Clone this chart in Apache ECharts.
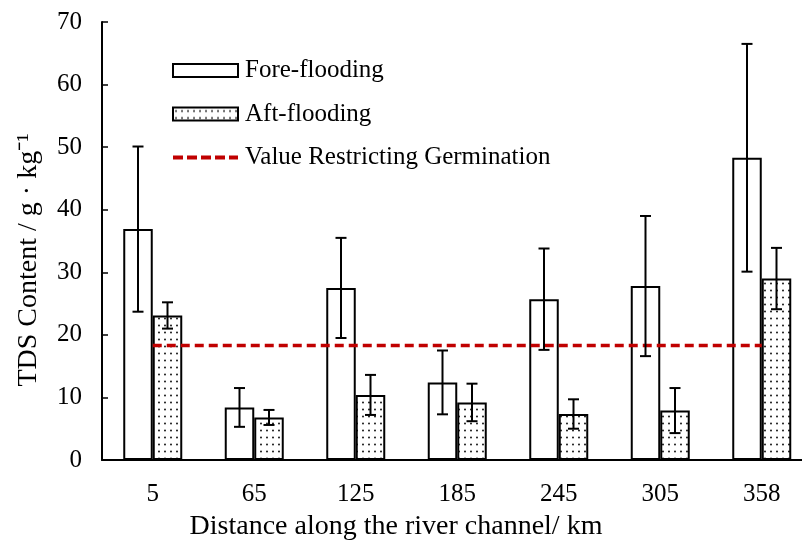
<!DOCTYPE html>
<html>
<head>
<meta charset="utf-8">
<script src="https://cdn.jsdelivr.net/npm/echarts@6/dist/echarts.min.js"></script>
<style>
  html, body { margin: 0; padding: 0; background: #fff; overflow: hidden; }
  #chart { width: 816px; height: 544px; }
</style>
</head>
<body>
<div id="chart"></div>
<script>
// distance categories (km)
var categories = ['5', '65', '125', '185', '245', '305', '358'];
// TDS content, g/kg
var foreMean = [36.9, 8.4, 27.5, 12.4, 25.7, 27.8, 48.3];
var foreErr = [13.2, 3.1, 8.0, 5.1, 8.1, 11.2, 18.2];
var aftMean = [23.1, 6.8, 10.4, 9.2, 7.35, 7.9, 29.0];
var aftErr = [2.1, 1.2, 3.2, 3.0, 2.35, 3.6, 4.9];
var restrictValue = [18.3, 18.3, 18.3, 18.3, 18.3, 18.3, 18.3];

var yTicks = { min: 0, max: 70, interval: 10 };
var font = '"Liberation Serif", "Times New Roman", serif';
var barW = 29.5;

// dotted fill for aft-flooding bars
var dots = document.createElement('canvas');
dots.width = 6;
dots.height = 7;
var ctx = dots.getContext('2d');
ctx.fillStyle = '#fff';
ctx.fillRect(0, 0, 6, 7);
ctx.fillStyle = '#000';
ctx.beginPath();
ctx.arc(3, 3.5, 0.9, 0, Math.PI * 2);
ctx.fill();
var dotFill = { image: dots, repeat: 'repeat' };

function errData(mean, err, side) {
    var out = [];
    for (var i = 0; i < mean.length; i++) {
        out.push([i, mean[i] - err[i], mean[i] + err[i], side]);
    }
    return out;
}

function renderErr(params, api) {
    var cat = api.value(0);
    var side = api.value(3);
    var lo = api.coord([cat, api.value(1)]);
    var hi = api.coord([cat, api.value(2)]);
    var x = lo[0] + side * barW / 2;
    var cap = 5.5;
    var st = { stroke: '#000', lineWidth: 2 };
    return {
        type: 'group',
        children: [
            { type: 'line', shape: { x1: x, y1: hi[1], x2: x, y2: lo[1] }, style: st },
            { type: 'line', shape: { x1: x - cap, y1: hi[1], x2: x + cap, y2: hi[1] }, style: st },
            { type: 'line', shape: { x1: x - cap, y1: lo[1], x2: x + cap, y2: lo[1] }, style: st }
        ]
    };
}

var myChart = echarts.init(document.getElementById('chart'));
myChart.setOption({
    animation: false,
    backgroundColor: '#fff',
    grid: { left: 102, top: 22, width: 710.5, height: 438 },
    legend: {
        orient: 'vertical',
        left: 171,
        top: 58,
        padding: 0,
        itemWidth: 65,
        itemHeight: 13,
        itemGap: 18.5,
        textStyle: { fontFamily: font, fontSize: 25, color: '#000', padding: [0, 0, 0, 2] },
        data: [
            { name: 'Fore-flooding', icon: 'rect' },
            { name: 'Aft-flooding', icon: 'rect' },
            {
                name: 'Value Restricting Germination',
                itemStyle: { opacity: 0 },
                lineStyle: { color: '#c00000', width: 4, type: [10, 4] }
            }
        ]
    },
    xAxis: {
        type: 'category',
        data: categories,
        axisLine: { lineStyle: { color: '#000', width: 2 } },
        axisTick: { inside: true, length: 7, lineStyle: { color: '#000', width: 1.5 } },
        axisLabel: { fontFamily: font, fontSize: 25, color: '#000', margin: 22 },
        splitLine: { show: false }
    },
    yAxis: {
        type: 'value',
        min: yTicks.min,
        max: yTicks.max,
        interval: yTicks.interval,
        axisLine: { show: true, lineStyle: { color: '#000', width: 2 } },
        axisTick: { show: true, inside: true, length: 6, lineStyle: { color: '#000', width: 1.5 } },
        axisLabel: { fontFamily: font, fontSize: 25, color: '#000', margin: 20 },
        splitLine: { show: false }
    },
    graphic: [
        {
            type: 'text', x: 29, y: 260, rotation: Math.PI / 2,
            style: { text: 'TDS Content / g · kg⁻¹', font: '28px ' + font, fill: '#000', textAlign: 'center', textVerticalAlign: 'middle' }
        },
        {
            type: 'text', x: 396, y: 527,
            style: { text: 'Distance along the river channel/ km', font: '28px ' + font, fill: '#000', textAlign: 'center', textVerticalAlign: 'middle' }
        }
    ],
    series: [
        {
            name: 'Fore-flooding',
            type: 'bar',
            data: foreMean,
            barWidth: barW,
            barGap: '0%',
            itemStyle: { color: '#fff', borderColor: '#000', borderWidth: 2 }
        },
        {
            name: 'Aft-flooding',
            type: 'bar',
            data: aftMean,
            barWidth: barW,
            barGap: '0%',
            itemStyle: { color: dotFill, borderColor: '#000', borderWidth: 2 }
        },
        {
            name: 'Value Restricting Germination',
            type: 'line',
            data: restrictValue,
            symbol: 'none',
            z: 5,
            itemStyle: { color: '#c00000' },
            lineStyle: { color: '#c00000', width: 3.5, type: [9, 5] }
        },
        {
            type: 'custom',
            renderItem: renderErr,
            data: errData(foreMean, foreErr, -1),
            z: 6
        },
        {
            type: 'custom',
            renderItem: renderErr,
            data: errData(aftMean, aftErr, 1),
            z: 6
        }
    ]
});
</script>
</body>
</html>
